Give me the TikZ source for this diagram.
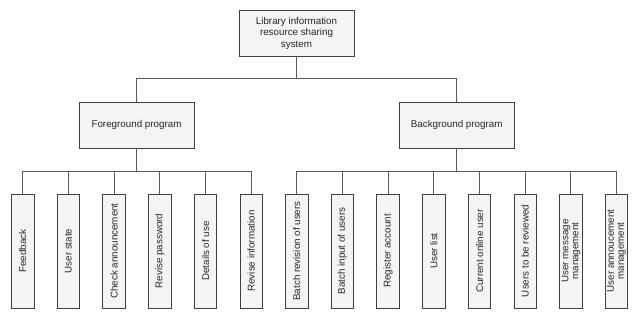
\documentclass[tikz,border=0pt]{standalone}
\usepackage{fontspec}
\setmainfont{Liberation Sans}
\usepackage{xcolor}
\usepackage{tikz}
\usetikzlibrary{positioning}

\begin{document}
\begin{tikzpicture}[
    x=1pt, y=-1pt,
    box/.style={rectangle, draw=black!75, fill=gray!9, line width=0.9pt,
                minimum width=115pt, minimum height=46pt, align=center,
                text=black!85, font=\fontsize{9.8}{11.5}\selectfont},
    leaf/.style={box, rotate=90, minimum width=114pt, minimum height=22.5pt,
                 inner sep=0.5pt, font=\fontsize{9.8}{10}\selectfont},
    link/.style={draw=black!65, line width=0.9pt}
]
\useasboundingbox (0,0) rectangle (640,320);

\node[box] (root) at (296.5,33)  {Library information\\resource sharing\\system};
\node[box] (fg)   at (136.5,125) {Foreground program};
\node[box] (bg)   at (456.7,125) {Background program};

% foreground leaves
\foreach \t [count=\i from 0] in {Feedback, User state, Check announcement,
        Revise password, Details of use, Revise information}
    \node[leaf] (f\i) at (22.7+45.7*\i,251) {\t};

% background leaves
\foreach \t [count=\i from 0] in {Batch revision of users, Batch input of users,
        Register account, User list, Current online user, Users to be reviewed,
        {User message\\management}, {User annoucement\\management}}
    \node[leaf] (b\i) at (296.7+45.7*\i,251) {\t};

\foreach \n in {fg, bg}
    \draw[link] (root.south) -- ++(0,22) -| (\n.north);
\foreach \i in {0,...,5}
    \draw[link] (fg.south) -- ++(0,23) -| (f\i.east);
\foreach \i in {0,...,7}
    \draw[link] (bg.south) -- ++(0,23) -| (b\i.east);
\end{tikzpicture}
\end{document}
